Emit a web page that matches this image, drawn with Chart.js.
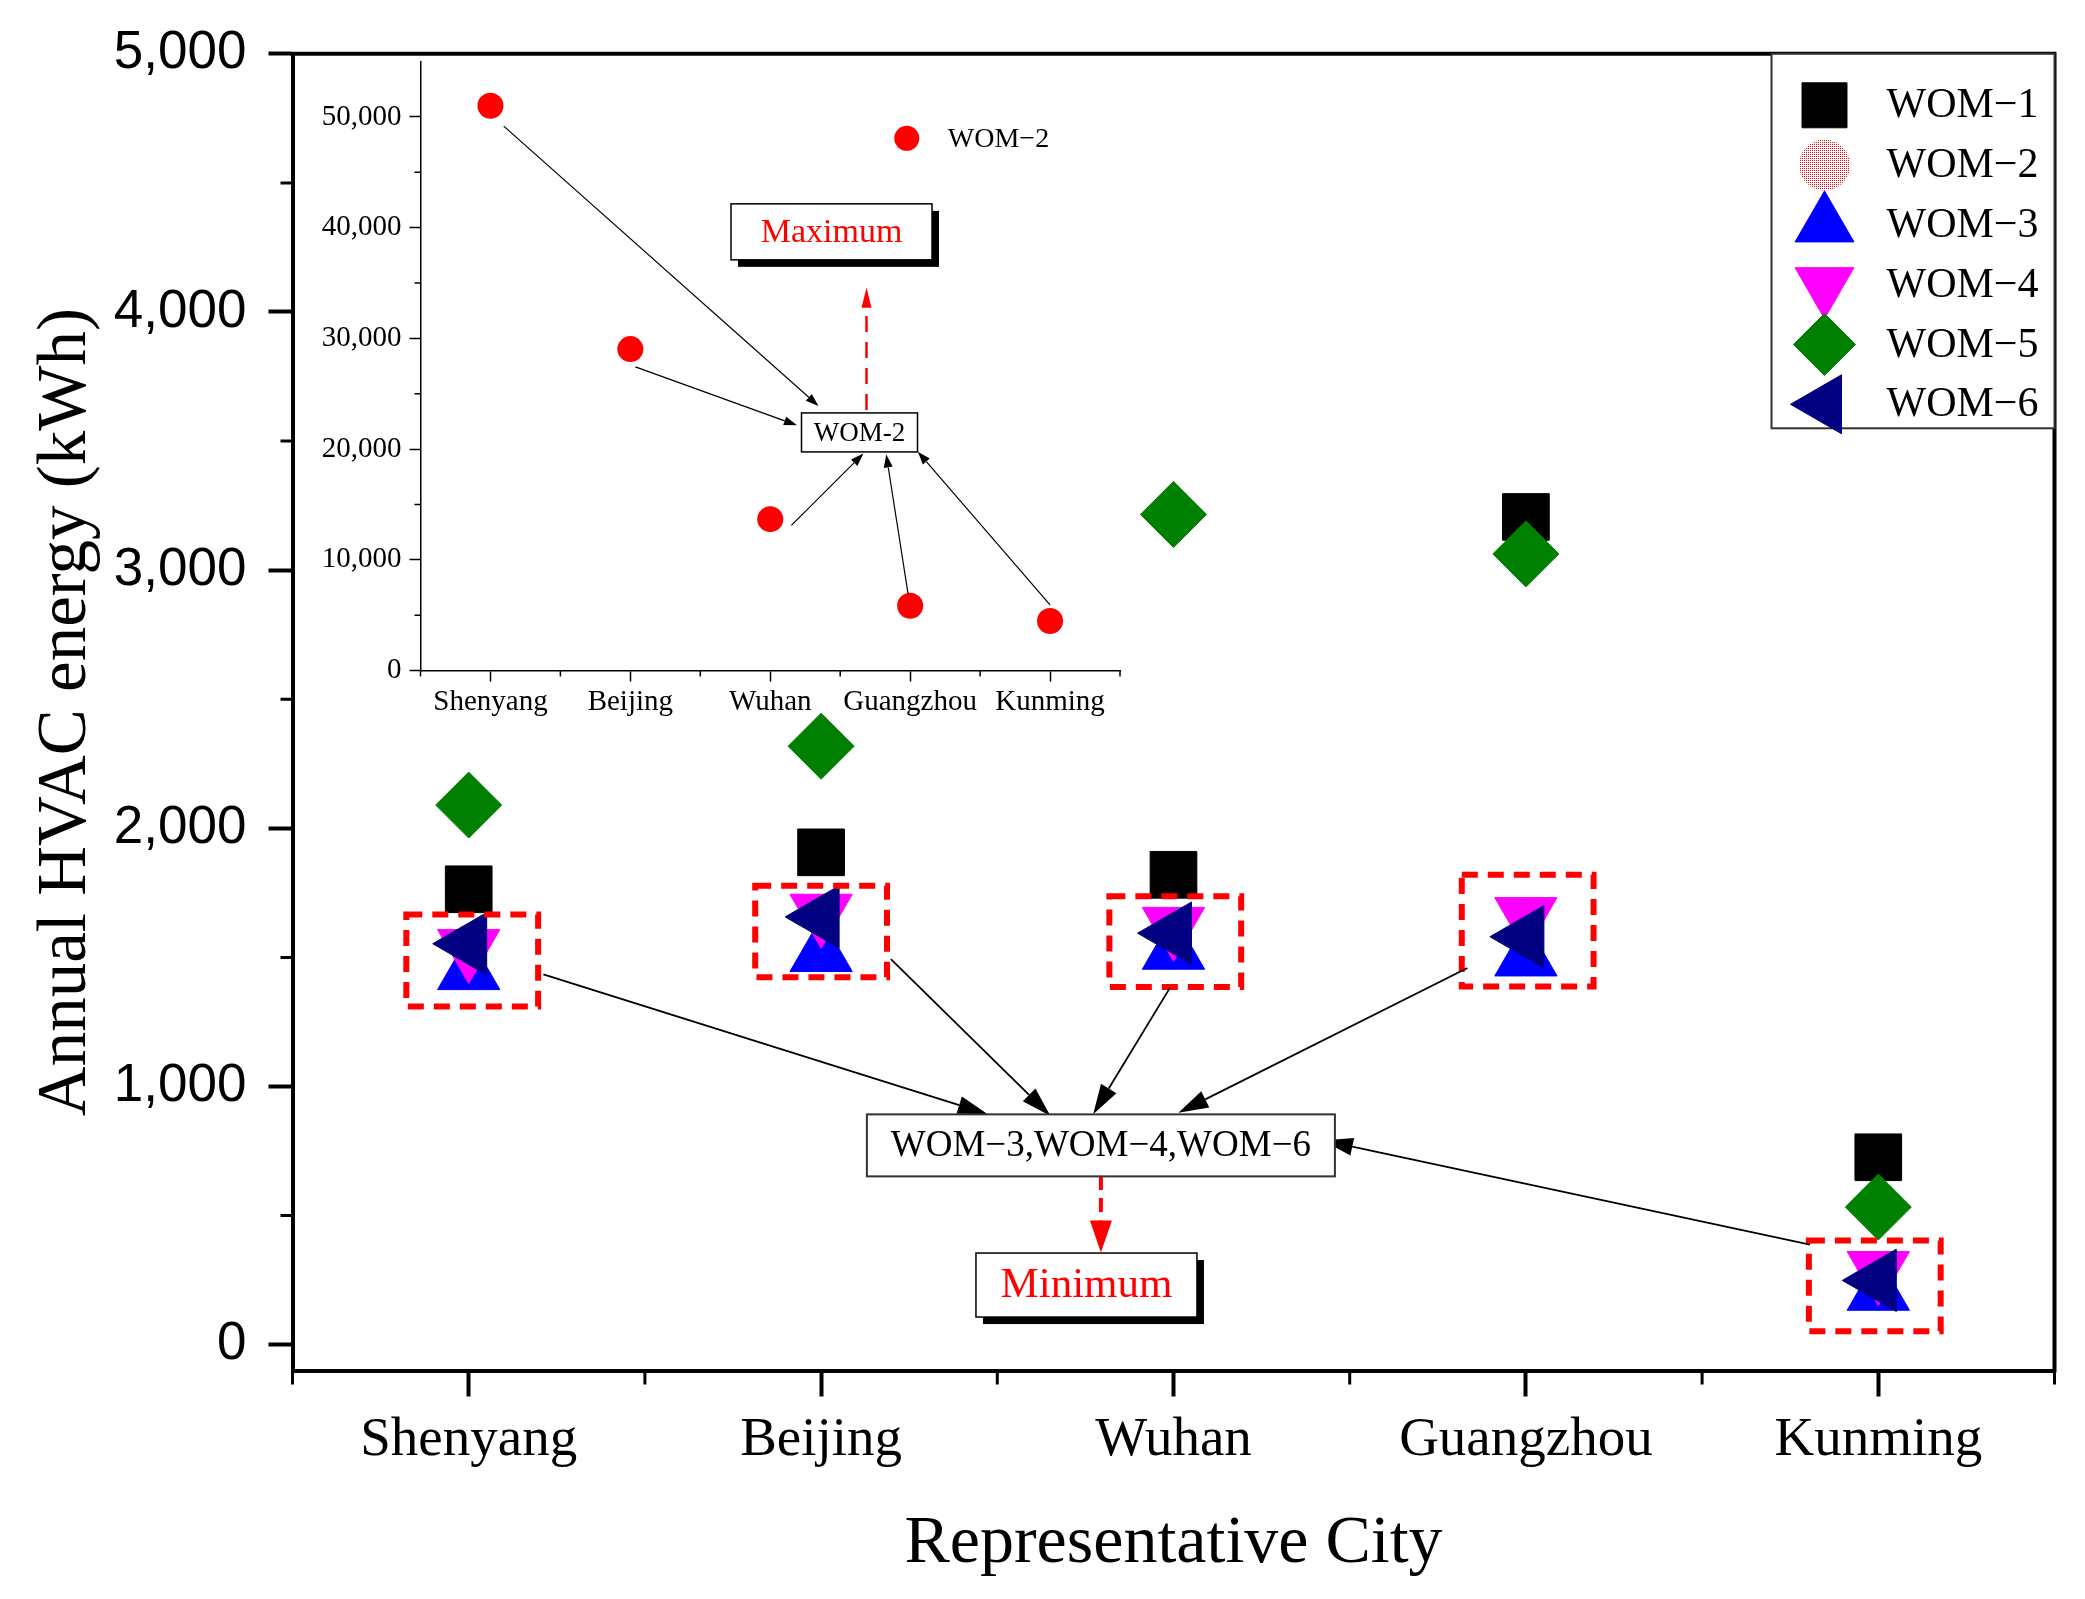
<!DOCTYPE html>
<html>
<head>
<meta charset="utf-8">
<title>Annual HVAC energy by representative city</title>
<script src="https://cdn.jsdelivr.net/npm/chart.js@4.4.1/dist/chart.umd.min.js"></script>
<style>
    html, body { margin: 0; padding: 0; background: #fff; }
    #wrap { position: relative; width: 2085px; height: 1599px; }
    #wrap canvas { position: absolute; left: 0; top: 0; }
    #insetChart { pointer-events: none; }
</style>
</head>
<body>
<div id="wrap">
    <canvas id="mainChart" width="2085" height="1599"></canvas>
    <canvas id="insetChart" width="2085" height="1599"></canvas>
</div>
<script>
// Data (kWh per year)
const cities = ['Shenyang', 'Beijing', 'Wuhan', 'Guangzhou', 'Kunming'];
const wom1 = [1764, 1907, 1820, 3206, 726];
const wom2 = [51010, 29030, 13670, 5850, 4470];
const wom3 = [1445, 1515, 1524, 1498, 203];
const wom4 = [1538, 1675, 1624, 1662, 291];
const wom5 = [2090, 2318, 3216, 3063, 533];
const wom6 = [1553, 1657, 1594, 1580, 249];
const energyTicks = [0, 1000, 2000, 3000, 4000, 5000];
const energyMinor = [500, 1500, 2500, 3500, 4500];
const insetTicks = [0, 10000, 20000, 30000, 40000, 50000];
const insetMinor = [5000, 15000, 25000, 35000, 45000];

const SERIF = "'Liberation Serif', 'Times New Roman', serif";
const SANS = "'Liberation Sans', Arial, sans-serif";

/**
 * Small dotted fill used for the WOM-2 legend key.
 */
function dotPattern() {
    const c = document.createElement('canvas');
    c.width = 2; c.height = 2;
    const g = c.getContext('2d');
    g.fillStyle = '#ff0000';
    g.fillRect(0, 0, 1, 1);
    return c.getContext('2d').createPattern(c, 'repeat');
}

function series(label, data, color, style, rotation, radius, keyRadius, order) {
    return {
        label: label,
        data: data,
        showLine: false,
        pointStyle: style,
        pointRotation: rotation,
        pointRadius: radius,
        pointHoverRadius: radius,
        pointBackgroundColor: color,
        pointBorderColor: color,
        pointBorderWidth: 1,
        keyRadius: keyRadius,
        order: order
    };
}

// keep the plot box where the figure has it (label overhang must not shrink it)
function noSidePadding(scale) {
    scale.paddingLeft = 0;
    scale.paddingRight = 0;
}

function arrow(ctx, x1, y1, x2, y2, o) {
    const ang = Math.atan2(y2 - y1, x2 - x1);
    const bx = x2 - Math.cos(ang) * o.head;
    const by = y2 - Math.sin(ang) * o.head;
    ctx.save();
    ctx.strokeStyle = o.color;
    ctx.fillStyle = o.color;
    ctx.lineWidth = o.width;
    ctx.setLineDash(o.dash || []);
    ctx.beginPath();
    ctx.moveTo(x1, y1);
    ctx.lineTo(bx, by);
    ctx.stroke();
    ctx.setLineDash([]);
    ctx.beginPath();
    ctx.moveTo(x2, y2);
    ctx.lineTo(bx + Math.sin(ang) * o.half, by - Math.cos(ang) * o.half);
    ctx.lineTo(bx - Math.sin(ang) * o.half, by + Math.cos(ang) * o.half);
    ctx.closePath();
    ctx.fill();
    ctx.restore();
}

function textBox(ctx, cx, cy, b) {
    const x = cx - b.w / 2, y = cy - b.h / 2;
    ctx.save();
    if (b.shadow) {
        ctx.fillStyle = '#000';
        ctx.fillRect(x + b.shadow, y + b.shadow, b.w, b.h);
    }
    ctx.fillStyle = '#fff';
    ctx.fillRect(x, y, b.w, b.h);
    ctx.strokeStyle = b.border || '#000';
    ctx.lineWidth = b.lineWidth || 1.5;
    ctx.strokeRect(x, y, b.w, b.h);
    ctx.fillStyle = b.color || '#000';
    ctx.font = b.font;
    ctx.textAlign = 'center';
    ctx.textBaseline = 'middle';
    ctx.fillText(b.text, cx, cy + 1);
    ctx.restore();
}

// Annotation layout, in data units (category index, value)
const mainNotes = {
    boxes: [[0.01, 1310, 1666], [1, 1423, 1778], [2.005, 1385, 1737], [3.005, 1387, 1820], [3.99, 52, 404]],
    halfWidth: 0.187,
    arrows: [[0.212, 1434, 1.473, 893], [1.198, 1493, 1.651, 886], [1.989, 1380, 1.772, 893],
             [2.834, 1459, 2.014, 898], [3.806, 388, 2.424, 791]],
    label: { i: 1.794, v: 772, w: 468, h: 62, text: 'WOM\u22123,WOM\u22124,WOM\u22126', font: '37px ' + SERIF, border: '#333', lineWidth: 2 },
    minArrow: [1.794, 653, 1.794, 357],
    minBox: { i: 1.753, v: 231, w: 221, h: 64, text: 'Minimum', font: '43px ' + SERIF, color: '#ff0000', shadow: 7 }
};

const insetNotes = {
    arrows: [[0.095, 49173, 2.345, 23900], [1.036, 27424, 2.191, 22147], [2.151, 13111, 2.666, 19599],
             [2.985, 6931, 2.829, 19517], [4.0, 5918, 3.055, 19762]],
    label: { i: 2.638, v: 21505, w: 116, h: 39, text: 'WOM-2', font: '27px ' + SERIF },
    maxArrow: [2.688, 23539, 2.688, 34563],
    maxBox: { i: 2.438, v: 39622, w: 201, h: 56, text: 'Maximum', font: '34px ' + SERIF, color: '#ff0000', shadow: 7 },
    key: { i: 2.976, v: 48068 }
};

const mainDecor = {
    id: 'mainDecor',
    afterDatasetsDraw(chart) {
        const ctx = chart.ctx, x = chart.scales.x, y = chart.scales.y;
        const n = mainNotes;
        ctx.save();
        ctx.strokeStyle = '#ff0000';
        ctx.lineWidth = 6;
        ctx.setLineDash([16, 10]);
        n.boxes.forEach(b => {
            const l = x.getPixelForValue(b[0] - n.halfWidth), r = x.getPixelForValue(b[0] + n.halfWidth);
            const t = y.getPixelForValue(b[2]), btm = y.getPixelForValue(b[1]);
            ctx.strokeRect(l, t, r - l, btm - t);
        });
        ctx.restore();
        n.arrows.forEach(a => {
            arrow(ctx, x.getPixelForValue(a[0]), y.getPixelForValue(a[1]), x.getPixelForValue(a[2]), y.getPixelForValue(a[3]),
                { color: '#000', width: 1.8, head: 30, half: 9 });
        });
        const m = n.minArrow;
        arrow(ctx, x.getPixelForValue(m[0]), y.getPixelForValue(m[1]), x.getPixelForValue(m[2]), y.getPixelForValue(m[3]),
            { color: '#ff0000', width: 4, head: 32, half: 11, dash: [14, 8] });
        textBox(ctx, x.getPixelForValue(n.label.i), y.getPixelForValue(n.label.v), n.label);
        textBox(ctx, x.getPixelForValue(n.minBox.i), y.getPixelForValue(n.minBox.v), n.minBox);
    },
    afterDraw(chart) {
        const ctx = chart.ctx, ca = chart.chartArea, x = chart.scales.x, y = chart.scales.y;
        ctx.save();
        // top and right frame
        ctx.strokeStyle = '#000';
        ctx.lineWidth = 4;
        ctx.beginPath();
        ctx.moveTo(ca.left - 2, ca.top);
        ctx.lineTo(ca.right, ca.top);
        ctx.lineTo(ca.right, ca.bottom + 2);
        ctx.stroke();
        // minor ticks
        ctx.lineWidth = 3;
        ctx.beginPath();
        for (let k = -0.5; k < cities.length; k += 1) {
            const px = x.getPixelForValue(k);
            ctx.moveTo(px, ca.bottom);
            ctx.lineTo(px, ca.bottom + 14);
        }
        energyMinor.forEach(v => {
            const py = y.getPixelForValue(v);
            ctx.moveTo(ca.left - 12, py);
            ctx.lineTo(ca.left, py);
        });
        ctx.stroke();
        // legend box
        const lw = 283, lh = 374.5, lx = ca.right - lw, ly = ca.top;
        ctx.fillStyle = '#fff';
        ctx.fillRect(lx, ly, lw, lh);
        ctx.strokeStyle = '#333';
        ctx.lineWidth = 2;
        ctx.strokeRect(lx, ly, lw, lh);
        chart.data.datasets.forEach((ds, k) => {
            const cy = ly + 51.5 + k * 59.8;
            ctx.fillStyle = ds.pointBackgroundColor;
            ctx.strokeStyle = ds.pointBorderColor;
            ctx.lineWidth = 1;
            Chart.helpers.drawPoint(ctx, {
                pointStyle: ds.pointStyle, rotation: ds.pointRotation || 0, radius: ds.keyRadius, borderWidth: 1
            }, lx + 53, cy);
            ctx.fillStyle = '#000';
            ctx.font = '42px ' + SERIF;
            ctx.textAlign = 'left';
            ctx.textBaseline = 'middle';
            ctx.fillText(ds.label, lx + 115, cy + 1);
        });
        ctx.restore();
    }
};

const insetDecor = {
    id: 'insetDecor',
    afterDatasetsDraw(chart) {
        const ctx = chart.ctx, x = chart.scales.x, y = chart.scales.y;
        const n = insetNotes;
        n.arrows.forEach(a => {
            arrow(ctx, x.getPixelForValue(a[0]), y.getPixelForValue(a[1]), x.getPixelForValue(a[2]), y.getPixelForValue(a[3]),
                { color: '#000', width: 1.2, head: 13, half: 4.5 });
        });
        const m = n.maxArrow;
        arrow(ctx, x.getPixelForValue(m[0]), y.getPixelForValue(m[1]), x.getPixelForValue(m[2]), y.getPixelForValue(m[3]),
            { color: '#ff0000', width: 2.5, head: 20, half: 5, dash: [16, 10] });
        textBox(ctx, x.getPixelForValue(n.label.i), y.getPixelForValue(n.label.v), n.label);
        textBox(ctx, x.getPixelForValue(n.maxBox.i), y.getPixelForValue(n.maxBox.v), n.maxBox);
        // inset key
        const kx = x.getPixelForValue(n.key.i), ky = y.getPixelForValue(n.key.v);
        const ds = chart.data.datasets[0];
        ctx.save();
        ctx.fillStyle = ds.pointBackgroundColor;
        Chart.helpers.drawPoint(ctx, { pointStyle: 'circle', rotation: 0, radius: 12.5, borderWidth: 0 }, kx, ky);
        ctx.fillStyle = '#000';
        ctx.font = '28px ' + SERIF;
        ctx.textAlign = 'left';
        ctx.textBaseline = 'middle';
        ctx.fillText(ds.label, kx + 41, ky + 1);
        ctx.restore();
    },
    afterDraw(chart) {
        const ctx = chart.ctx, ca = chart.chartArea, x = chart.scales.x, y = chart.scales.y;
        ctx.save();
        ctx.strokeStyle = '#000';
        ctx.lineWidth = 1.5;
        ctx.beginPath();
        for (let k = -0.5; k < cities.length; k += 1) {
            const px = x.getPixelForValue(k);
            ctx.moveTo(px, ca.bottom);
            ctx.lineTo(px, ca.bottom + 6);
        }
        insetMinor.forEach(v => {
            const py = y.getPixelForValue(v);
            ctx.moveTo(ca.left - 6, py);
            ctx.lineTo(ca.left, py);
        });
        ctx.stroke();
        ctx.restore();
    }
};

const keyPattern = dotPattern();

new Chart(document.getElementById('mainChart'), {
    type: 'line',
    data: {
        labels: cities,
        datasets: [
            series('WOM\u22121', wom1, '#000000', 'rect', 0, 33, 31.8, 6),
            series('WOM\u22122', [], keyPattern, 'circle', 0, 13, 25, 5),
            series('WOM\u22123', wom3, '#0000ff', 'triangle', 0, 36, 34, 4),
            series('WOM\u22124', wom4, '#ff00ff', 'triangle', 180, 36, 34, 3),
            series('WOM\u22125', wom5, '#008000', 'rectRot', 0, 33, 31, 2),
            series('WOM\u22126', wom6, '#000080', 'triangle', -90, 36, 34, 1)
        ]
    },
    options: {
        responsive: false,
        animation: false,
        devicePixelRatio: 1,
        layout: { autoPadding: false, padding: { top: 52, right: 30.5, left: 0, bottom: 0 } },
        plugins: { legend: { display: false }, tooltip: { enabled: false } },
        scales: {
            x: {
                type: 'category',
                offset: true,
                grid: { drawOnChartArea: false, drawTicks: true, tickLength: 26, tickWidth: 4, tickColor: '#000' },
                border: { display: true, width: 4, color: '#000' },
                ticks: { font: { family: SERIF, size: 55 }, color: '#000', padding: 11, maxRotation: 0, autoSkip: false },
                title: {
                    display: true, text: 'Representative City', color: '#000',
                    font: { family: SERIF, size: 68 }, padding: { top: 0, bottom: 14 }
                },
                afterFit: function(scale) { scale.height = 228.5; noSidePadding(scale); }
            },
            y: {
                min: -100,
                max: 5000,
                afterBuildTicks: function(scale) { scale.ticks = energyTicks.map(v => ({ value: v })); },
                grid: { drawOnChartArea: false, drawTicks: true, tickLength: 24, tickWidth: 4, tickColor: '#000' },
                border: { display: true, width: 4, color: '#000' },
                ticks: {
                    font: { family: SANS, size: 53 }, color: '#000', padding: 22,
                    callback: function(value) { return value.toLocaleString('en-US'); }
                },
                title: {
                    display: true, text: 'Annual HVAC energy (kWh)', color: '#000',
                    font: { family: SERIF, size: 69 }, padding: { top: 25, bottom: 0 }
                },
                afterFit: function(scale) { scale.width = 292.5; noSidePadding(scale); }
            }
        }
    },
    plugins: [mainDecor]
});

new Chart(document.getElementById('insetChart'), {
    type: 'line',
    data: {
        labels: cities,
        datasets: [{
            label: 'WOM\u22122',
            data: wom2,
            showLine: false,
            pointStyle: 'circle',
            pointRadius: 13,
            pointHoverRadius: 13,
            pointBackgroundColor: '#ff0000',
            pointBorderColor: '#ff0000',
            pointBorderWidth: 0
        }]
    },
    options: {
        responsive: false,
        animation: false,
        devicePixelRatio: 1,
        layout: { autoPadding: false, padding: { top: 61.6, right: 965, left: 0, bottom: 0 } },
        plugins: { legend: { display: false }, tooltip: { enabled: false } },
        scales: {
            x: {
                type: 'category',
                offset: true,
                grid: { drawOnChartArea: false, drawTicks: true, tickLength: 11, tickWidth: 1.5, tickColor: '#000' },
                border: { display: true, width: 1.5, color: '#000' },
                ticks: { font: { family: SERIF, size: 29 }, color: '#000', padding: 3, maxRotation: 0, autoSkip: false },
                afterFit: function(scale) { scale.height = 928.5; noSidePadding(scale); }
            },
            y: {
                min: 0,
                max: 55000,
                afterBuildTicks: function(scale) { scale.ticks = insetTicks.map(v => ({ value: v })); },
                grid: { drawOnChartArea: false, drawTicks: true, tickLength: 11, tickWidth: 1.5, tickColor: '#000' },
                border: { display: true, width: 1.5, color: '#000' },
                ticks: {
                    font: { family: SERIF, size: 29 }, color: '#000', padding: 8,
                    callback: function(value) { return value.toLocaleString('en-US'); }
                },
                afterFit: function(scale) { scale.width = 420.5; noSidePadding(scale); }
            }
        }
    },
    plugins: [insetDecor]
});
</script>
</body>
</html>
